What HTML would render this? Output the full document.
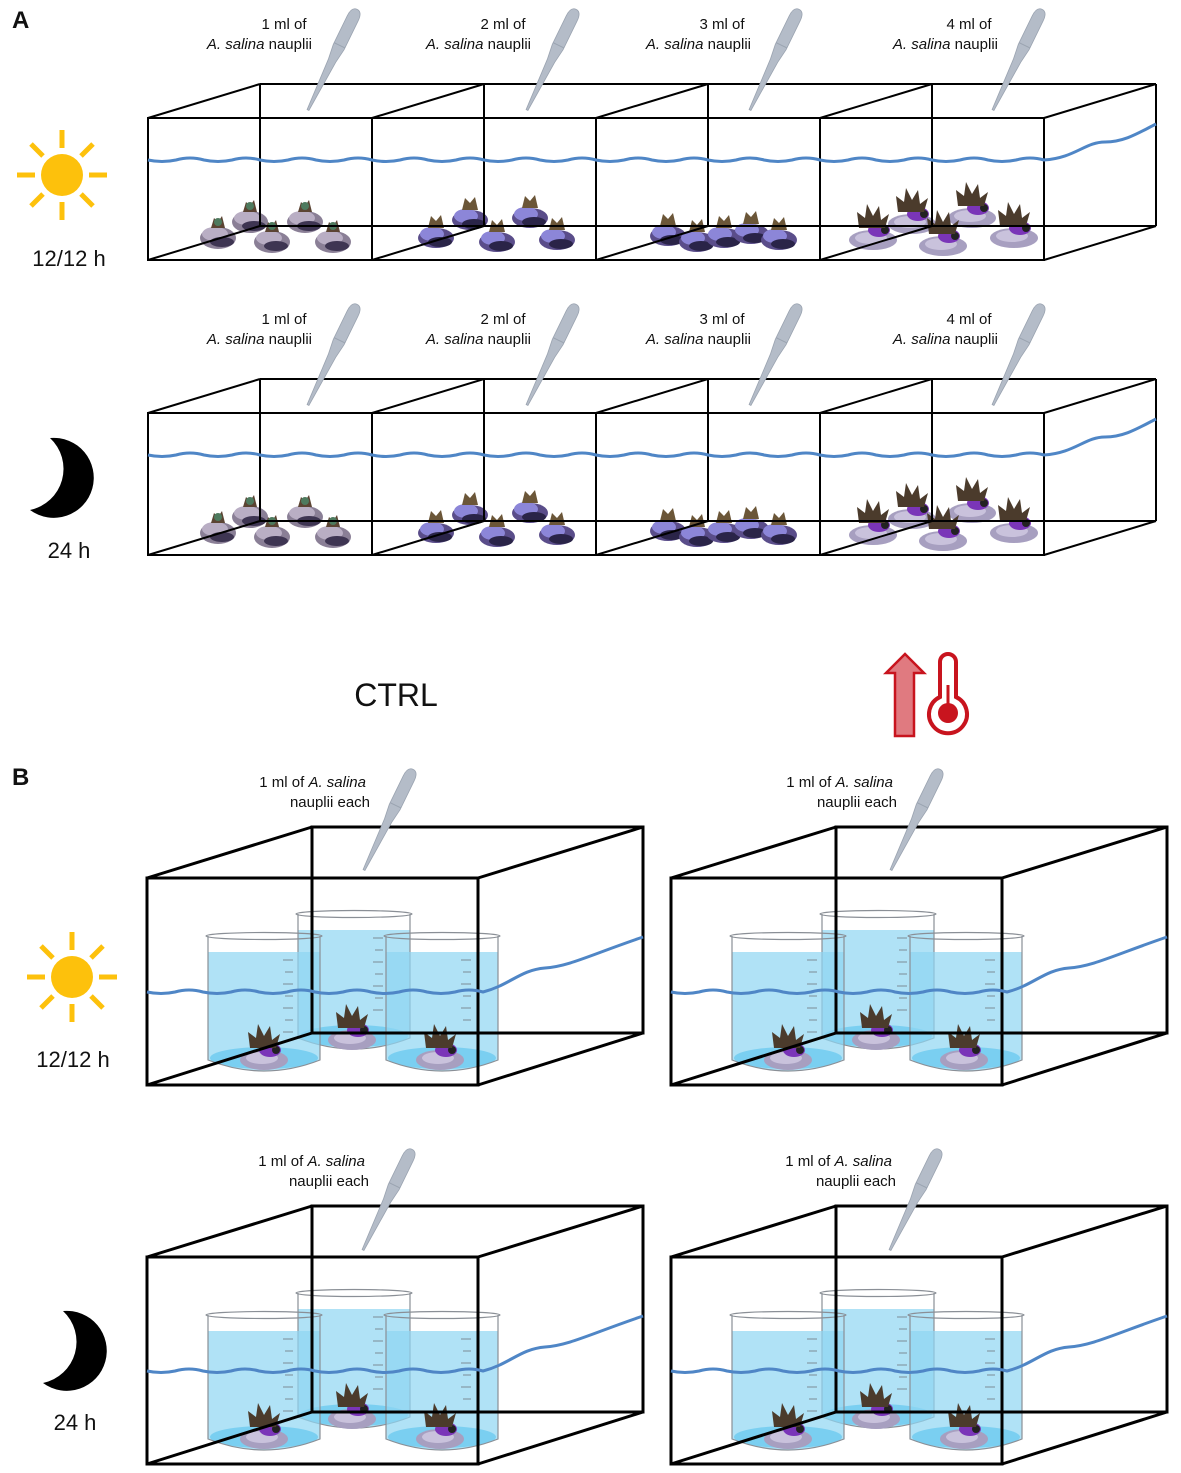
<!DOCTYPE html>
<html><head><meta charset="utf-8"><style>
html,body{margin:0;padding:0;background:#fff}
svg{display:block}
text{font-family:"Liberation Sans",Arial,sans-serif;fill:#111}
</style></head><body>
<svg width="1181" height="1473" viewBox="0 0 1181 1473" xmlns="http://www.w3.org/2000/svg">
<defs>
<g id="pip">
<path d="M-1,0 L1,0 L4,-55 L6,-70 L6,-102 Q6,-112 0,-112 Q-6,-112 -6,-102 L-6,-70 L-4,-55 Z" fill="#b4bcc8" stroke="#9aa3b0" stroke-width="0.8"/>
<path d="M-6,-72 L6,-72" stroke="#9aa3b0" stroke-width="1"/>
</g>
<g id="sun">
<circle r="21" fill="#fdc10c"/>
<g stroke="#fdc10c" stroke-width="5">
<line x1="0" y1="-27" x2="0" y2="-45"/><line x1="0" y1="27" x2="0" y2="45"/>
<line x1="-27" y1="0" x2="-45" y2="0"/><line x1="27" y1="0" x2="45" y2="0"/>
<line x1="19" y1="-19" x2="31" y2="-31"/><line x1="-19" y1="-19" x2="-31" y2="-31"/>
<line x1="19" y1="19" x2="31" y2="31"/><line x1="-19" y1="19" x2="-31" y2="31"/>
</g></g>
<path id="moon" d="M-14,-38 A40,40 0 1,1 -34,34 A42,42 0 0,0 -14,-38 Z" fill="#000"/>
<g id="coral">
<ellipse cx="0" cy="6" rx="18" ry="11" fill="#8a7f96"/>
<ellipse cx="-3" cy="2" rx="13" ry="7" fill="#b9aec4"/>
<ellipse cx="4" cy="10" rx="12" ry="5" fill="#3e3552"/>
<path d="M-7,-4 L-4,-14 L0,-10 L4,-16 L7,-4 Z" fill="#5b4433"/>
<circle cx="0" cy="-10" r="4" fill="#4e7a5e"/>
</g>
<g id="coralb">
<ellipse cx="0" cy="6" rx="18" ry="10" fill="#5a4d8a"/>
<ellipse cx="-4" cy="2" rx="12" ry="7" fill="#8c86d8"/>
<ellipse cx="4" cy="10" rx="12" ry="5" fill="#2a2448"/>
<path d="M-8,-4 L-5,-16 L0,-11 L5,-17 L8,-4 Z" fill="#6b5638"/>
</g>
<g id="coralc">
<ellipse cx="0" cy="10" rx="24" ry="10" fill="#a79fc0"/>
<ellipse cx="-2" cy="8" rx="16" ry="6" fill="#c9c2dc"/>
<ellipse cx="6" cy="0" rx="11" ry="7" fill="#7a35b8"/>
<circle cx="12" cy="0" r="4" fill="#222"/>
<path d="M-14,-2 L-16,-18 L-8,-12 L-6,-26 L0,-14 L6,-24 L8,-10 L16,-16 L12,-2 Z" fill="#4b3b2c"/>
</g>
<g id="beaker">
<path d="M3,20 L115,20 L115,128 Q59,150 3,128 Z" fill="#8fd6f2" opacity="0.7"/>
<ellipse cx="59" cy="126" rx="54" ry="11" fill="#4fc0ec" opacity="0.55"/>
<path d="M3,4 L3,128 Q59,150 115,128 L115,4" fill="none" stroke="#8a8f96" stroke-width="1.2"/>
<ellipse cx="59" cy="4" rx="58" ry="3.5" fill="none" stroke="#8a8f96" stroke-width="1.2"/>
<g stroke="#7d8c96" stroke-width="1">
<line x1="78" y1="28" x2="88" y2="28"/><line x1="80" y1="40" x2="88" y2="40"/><line x1="78" y1="52" x2="88" y2="52"/><line x1="80" y1="64" x2="88" y2="64"/><line x1="78" y1="76" x2="88" y2="76"/><line x1="80" y1="88" x2="88" y2="88"/><line x1="78" y1="100" x2="88" y2="100"/>
</g>
</g>
<path id="waveA" d="M148,160 q14,3 28,0 q14,-4 28,0 q14,3 28,0 q14,-4 28,0 q14,3 28,0 q14,-4 28,0 q14,3 28,0 q14,-4 28,0 q14,3 28,0 q14,-4 28,0 q14,3 28,0 q14,-4 28,0 q14,3 28,0 q14,-4 28,0 q14,3 28,0 q14,-4 28,0 q14,3 28,0 q14,-4 28,0 q14,3 28,0 q14,-4 28,0 q14,3 28,0 q14,-4 28,0 q14,3 28,0 q14,-4 28,0 q14,3 28,0 q14,-4 28,0 q14,3 28,0 q14,-4 28,0 q14,3 28,0 q14,-4 28,0 q14,3 28,0 q14,-4 28,0 C1075,158 1085,142 1105,142 S1140,132 1156,124" fill="none" stroke="#4f86c6" stroke-width="3"/>
<g id="tankA" fill="none" stroke="#000" stroke-width="2">
<rect x="148" y="118" width="896" height="142"/>
<line x1="372" y1="118" x2="372" y2="260"/><line x1="596" y1="118" x2="596" y2="260"/><line x1="820" y1="118" x2="820" y2="260"/>
<line x1="260" y1="84" x2="1156" y2="84"/><line x1="260" y1="226" x2="1156" y2="226"/>
<line x1="260" y1="84" x2="260" y2="226"/><line x1="484" y1="84" x2="484" y2="226"/><line x1="708" y1="84" x2="708" y2="226"/><line x1="932" y1="84" x2="932" y2="226"/><line x1="1156" y1="84" x2="1156" y2="226"/>
<line x1="148" y1="118" x2="260" y2="84"/><line x1="372" y1="118" x2="484" y2="84"/><line x1="596" y1="118" x2="708" y2="84"/><line x1="820" y1="118" x2="932" y2="84"/><line x1="1044" y1="118" x2="1156" y2="84"/>
<line x1="148" y1="260" x2="260" y2="226"/><line x1="372" y1="260" x2="484" y2="226"/><line x1="596" y1="260" x2="708" y2="226"/><line x1="820" y1="260" x2="932" y2="226"/><line x1="1044" y1="260" x2="1156" y2="226"/>
</g>
<g id="coralsA">
<use href="#coral" x="250" y="216"/><use href="#coral" x="305" y="216"/><use href="#coral" x="218" y="232"/><use href="#coral" x="272" y="236"/><use href="#coral" x="333" y="236"/>
<use href="#coralb" x="470" y="214"/><use href="#coralb" x="530" y="212"/><use href="#coralb" x="436" y="232"/><use href="#coralb" x="497" y="236"/><use href="#coralb" x="557" y="234"/>
<use href="#coralb" x="668" y="230"/><use href="#coralb" x="697" y="236"/><use href="#coralb" x="724" y="232"/><use href="#coralb" x="751" y="228"/><use href="#coralb" x="779" y="234"/>
<use href="#coralc" x="912" y="214"/><use href="#coralc" x="972" y="208"/><use href="#coralc" x="873" y="230"/><use href="#coralc" x="943" y="236"/><use href="#coralc" x="1014" y="228"/>
</g>
<g id="boxB">
<use href="#beaker" x="295" y="910"/>
<use href="#beaker" x="205" y="932"/>
<use href="#beaker" x="383" y="932"/>
<use href="#coralc" x="352" y="1030"/>
<use href="#coralc" x="264" y="1050"/>
<use href="#coralc" x="440" y="1050"/>
<g fill="none" stroke="#000" stroke-width="3">
<rect x="147" y="878" width="331" height="207"/>
<rect x="312" y="827" width="331" height="206"/>
<line x1="147" y1="878" x2="312" y2="827"/><line x1="478" y1="878" x2="643" y2="827"/>
<line x1="147" y1="1085" x2="312" y2="1033"/><line x1="478" y1="1085" x2="643" y2="1033"/>
</g>
<path d="M147,992 q14,3 28,0 q14,-4 28,0 q14,3 28,0 q14,-4 28,0 q14,3 28,0 q14,-4 28,0 q14,3 28,0 q14,-4 28,0 q14,3 28,0 q14,-4 28,0 q14,3 28,0 q14,-4 28,0 C510,985 520,970 545,968 S590,955 643,937" fill="none" stroke="#4f86c6" stroke-width="3"/>
</g>
</defs>

<text x="12" y="28" font-size="24" font-weight="bold">A</text>
<text x="12" y="785" font-size="24" font-weight="bold">B</text>

<use href="#coralsA"/>
<use href="#tankA"/>
<use href="#waveA"/>
<use href="#pip" transform="translate(308,110) rotate(26)"/>
<use href="#pip" transform="translate(527,110) rotate(26)"/>
<use href="#pip" transform="translate(750,110) rotate(26)"/>
<use href="#pip" transform="translate(993,110) rotate(26)"/>
<g font-size="15">
<text x="284" y="29" text-anchor="middle">1 ml of</text><text x="312" y="49" text-anchor="end"><tspan font-style="italic">A. salina</tspan> nauplii</text>
<text x="503" y="29" text-anchor="middle">2 ml of</text><text x="531" y="49" text-anchor="end"><tspan font-style="italic">A. salina</tspan> nauplii</text>
<text x="722" y="29" text-anchor="middle">3 ml of</text><text x="751" y="49" text-anchor="end"><tspan font-style="italic">A. salina</tspan> nauplii</text>
<text x="969" y="29" text-anchor="middle">4 ml of</text><text x="998" y="49" text-anchor="end"><tspan font-style="italic">A. salina</tspan> nauplii</text>
</g>
<use href="#sun" x="62" y="175"/>
<text x="69" y="266" font-size="22" text-anchor="middle">12/12 h</text>

<g transform="translate(0,295)">
<use href="#coralsA"/>
<use href="#tankA"/>
<use href="#waveA"/>
<use href="#pip" transform="translate(308,110) rotate(26)"/>
<use href="#pip" transform="translate(527,110) rotate(26)"/>
<use href="#pip" transform="translate(750,110) rotate(26)"/>
<use href="#pip" transform="translate(993,110) rotate(26)"/>
<g font-size="15">
<text x="284" y="29" text-anchor="middle">1 ml of</text><text x="312" y="49" text-anchor="end"><tspan font-style="italic">A. salina</tspan> nauplii</text>
<text x="503" y="29" text-anchor="middle">2 ml of</text><text x="531" y="49" text-anchor="end"><tspan font-style="italic">A. salina</tspan> nauplii</text>
<text x="722" y="29" text-anchor="middle">3 ml of</text><text x="751" y="49" text-anchor="end"><tspan font-style="italic">A. salina</tspan> nauplii</text>
<text x="969" y="29" text-anchor="middle">4 ml of</text><text x="998" y="49" text-anchor="end"><tspan font-style="italic">A. salina</tspan> nauplii</text>
</g>
</g>
<use href="#moon" transform="translate(64,476)"/>
<text x="69" y="558" font-size="22" text-anchor="middle">24 h</text>

<text x="396" y="706" font-size="32" text-anchor="middle">CTRL</text>
<path d="M905,654 L924,673 L914,673 L914,736 L895,736 L895,673 L886,673 Z" fill="#e07a80" stroke="#c8141e" stroke-width="2.5"/>
<path d="M940,697 L940,662 A8,8 0 0,1 956,662 L956,697 A19,19 0 1,1 940,697 Z" fill="#fff" stroke="#c8141e" stroke-width="4"/>
<line x1="948" y1="685" x2="948" y2="705" stroke="#c8141e" stroke-width="3"/>
<circle cx="948" cy="713" r="10" fill="#c8141e"/>

<use href="#boxB"/>
<use href="#boxB" x="524"/>
<use href="#boxB" y="379"/>
<use href="#boxB" x="524" y="379"/>
<use href="#pip" transform="translate(364,870) rotate(26)"/>
<use href="#pip" transform="translate(891,870) rotate(26)"/>
<use href="#pip" transform="translate(363,1250) rotate(26)"/>
<use href="#pip" transform="translate(890,1250) rotate(26)"/>
<g font-size="15">
<text x="366" y="787" text-anchor="end">1 ml of <tspan font-style="italic">A. salina</tspan></text><text x="370" y="807" text-anchor="end">nauplii each</text>
<text x="893" y="787" text-anchor="end">1 ml of <tspan font-style="italic">A. salina</tspan></text><text x="897" y="807" text-anchor="end">nauplii each</text>
<text x="365" y="1166" text-anchor="end">1 ml of <tspan font-style="italic">A. salina</tspan></text><text x="369" y="1186" text-anchor="end">nauplii each</text>
<text x="892" y="1166" text-anchor="end">1 ml of <tspan font-style="italic">A. salina</tspan></text><text x="896" y="1186" text-anchor="end">nauplii each</text>
</g>
<use href="#sun" x="72" y="977"/>
<text x="73" y="1067" font-size="22" text-anchor="middle">12/12 h</text>
<use href="#moon" transform="translate(77,1349)"/>
<text x="75" y="1430" font-size="22" text-anchor="middle">24 h</text>
</svg>
</body></html>
